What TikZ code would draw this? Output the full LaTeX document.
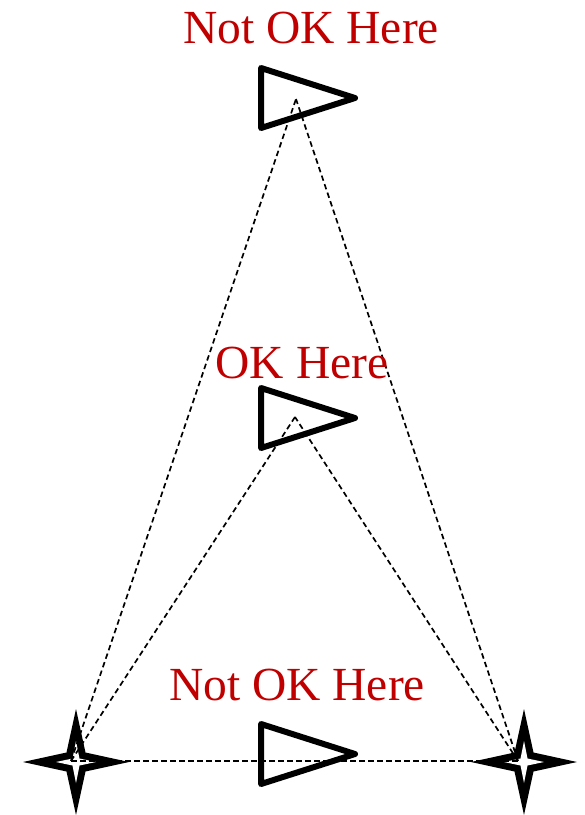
\documentclass[tikz,border=0pt]{standalone}
\usepackage{fontspec}
\setmainfont{Liberation Serif}
\definecolor{labred}{RGB}{192,0,0}
\begin{document}
\begin{tikzpicture}[x=1pt,y=-1pt,
  lbl/.style={text=labred,font=\fontsize{47.5}{50}\selectfont,anchor=base,inner sep=0},
  tri/.style={draw=black,line width=6pt,line join=round},
  starouter/.style={fill=black},
  starinner/.style={fill=white},
  dashline/.style={draw=black,line width=1.7pt,dash pattern=on 5.5pt off 3.5pt}]
\useasboundingbox (0,0) rectangle (585,815);
% stars
\coordinate (SL) at (76,762);
\coordinate (SR) at (524,762);
\foreach \s in {SL,SR}{
  \fill[starouter,shift={(\s)}] (0,-53) -- (9.5,-9.5) -- (53,0) -- (9.5,9.5) -- (0,53) -- (-9.5,9.5) -- (-53,0) -- (-9.5,-9.5) -- cycle;
  \fill[starinner,shift={(\s)}] (0,-21) -- (3.5,-3.5) -- (20,0) -- (3.5,3.5) -- (0,21) -- (-3.5,3.5) -- (-20,0) -- (-3.5,-3.5) -- cycle;
}
\coordinate (L) at (71,761);
\coordinate (R) at (518,761);
% apex points
\coordinate (A) at (296,99);
\coordinate (B) at (295,417);
% dashed lines
\draw[dashline] (L) -- (A);
\draw[dashline] (R) -- (A);
\draw[dashline] (L) -- (B);
\draw[dashline] (R) -- (B);
\draw[dashline] (L) -- (R);
% triangles
\draw[tri] (261,68) -- (355,98) -- (261,128) -- cycle;
\draw[tri] (261,388) -- (355,418) -- (261,448) -- cycle;
\draw[tri] (261,724) -- (355,754) -- (261,784) -- cycle;
% labels
\node[lbl] (t1) at (311,43) {Not OK Here};
\node[lbl] (t2) at (302,378) {OK Here};
\node[lbl] (t3) at (297,700) {Not OK Here};
\end{tikzpicture}
\end{document}
